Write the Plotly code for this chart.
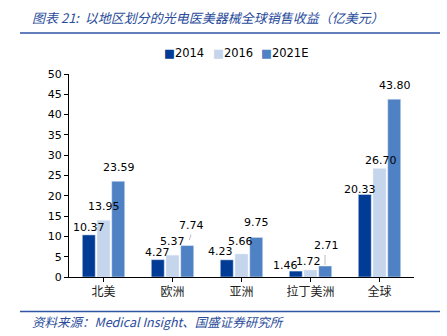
import plotly.graph_objects as go

categories = ["北美", "欧洲", "亚洲", "拉丁美洲", "全球"]
series_names = ["2014", "2016", "2021E"]
v2014 = [10.37, 4.27, 4.23, 1.46, 20.33]
v2016 = [13.95, 5.37, 5.66, 1.72, 26.70]
v2021 = [23.59, 7.74, 9.75, 2.71, 43.80]
colors = ["#003C96", "#C5D5EB", "#4F81C5"]

title_text = "图表 21:  以地区划分的光电医美器械全球销售收益（亿美元）"
source_text = "资料来源：Medical Insight、国盛证券研究所"

series = [v2014, v2016, v2021]

# label placement styling (pixel nudges, like hand-placed Excel labels)
slot_px = [-15, 0, 15.5]
label_dx = [[0, 0, -6.5, -10, -4.5],
            [0.5, -0.5, -1.5, -1.7, 1],
            [0, 3, -1, 0, 0]]
label_dy = [[7, 7.5, 8, 6, 5],
            [13.5, 14, 12.5, 8.5, 8],
            [14, 20.5, 15, 21, 14]]

fig = go.Figure()
for i, (name, vals, c) in enumerate(zip(series_names, series, colors)):
    fig.add_trace(go.Bar(
        x=categories, y=vals, name=name, marker_color=c,
        offsetgroup=str(i), showlegend=False,
    ))

W, H = 447, 336
L, R, T, B = 69, 33, 74, 59
pw, ph = W - L - R, H - T - B

def px(x):
    return (x - L) / pw

def py(y):
    return (H - B - y) / ph

fig.update_layout(
    width=W, height=H,
    margin=dict(l=L, r=R, t=T, b=B, autoexpand=False),
    paper_bgcolor="white", plot_bgcolor="white",
    barmode="group", bargap=0.36, bargroupgap=0.12,
    font=dict(family="DejaVu Sans", size=11, color="black"),
    showlegend=False,
    xaxis=dict(showline=True, linecolor="black", linewidth=1, ticks="outside",
               ticklen=4, tickcolor="black",
               tickfont=dict(family="Noto Sans CJK SC", size=12, color="#222")),
    yaxis=dict(range=[0, 50], dtick=5, showline=True, linecolor="black",
               linewidth=1, ticks="outside", ticklen=4, tickcolor="black",
               showgrid=False, zeroline=False,
               tickfont=dict(family="DejaVu Sans", size=11)),
)

# data labels
for i, vals in enumerate(series):
    for j, (cat, v) in enumerate(zip(categories, vals)):
        fig.add_annotation(
            text=f"{v:.2f}", xref="x", yref="y", x=cat, y=v,
            xshift=slot_px[i] + label_dx[i][j], yshift=label_dy[i][j],
            xanchor="center", yanchor="middle", showarrow=False,
            font=dict(family="DejaVu Sans", size=11, color="black"))

# small leader lines (欧洲 2021E, 拉丁美洲 2021E)
leaders = [(2, 1, 1.3, 5.5, 3, 11), (2, 3, -1, 1, -1, 11)]
for i, j, x0, y0, x1, y1 in leaders:
    fig.add_shape(type="line", xref="x", yref="y",
                  xsizemode="pixel", ysizemode="pixel",
                  xanchor=j, yanchor=series[i][j],
                  x0=slot_px[i] + x0, x1=slot_px[i] + x1, y0=y0, y1=y1,
                  line=dict(color="#BFBFBF", width=1))

# legend built from series names / colours
legend_x = [162, 211, 259]
for name, c, lx in zip(series_names, colors, legend_x):
    fig.add_annotation(
        text=f"<span style='color:{c}'>■</span>{name}",
        xref="paper", yref="paper", x=px(lx), y=py(53),
        xanchor="left", yanchor="middle", showarrow=False,
        font=dict(family="DejaVu Sans", size=11.5, color="black"))

fig.add_shape(type="line", xref="paper", yref="paper",
              x0=px(20), x1=px(440), y0=py(33), y1=py(33),
              line=dict(color="#2F55A4", width=1.5))
fig.add_shape(type="line", xref="paper", yref="paper",
              x0=px(20), x1=px(440), y0=py(311.5), y1=py(311.5),
              line=dict(color="#2F55A4", width=1.5))

fig.add_annotation(text=f"<i>{title_text}</i>", xref="paper", yref="paper",
                   x=px(30), y=py(18), xanchor="left", yanchor="middle",
                   showarrow=False,
                   font=dict(family="Noto Sans CJK SC", size=13, color="#2A4C9B"))
fig.add_annotation(text=f"<i>{source_text}</i>", xref="paper", yref="paper",
                   x=px(30), y=py(321), xanchor="left", yanchor="middle",
                   showarrow=False,
                   font=dict(family="Noto Sans CJK SC", size=12.5, color="#2A4C9B"))

fig.write_html("out.html")
